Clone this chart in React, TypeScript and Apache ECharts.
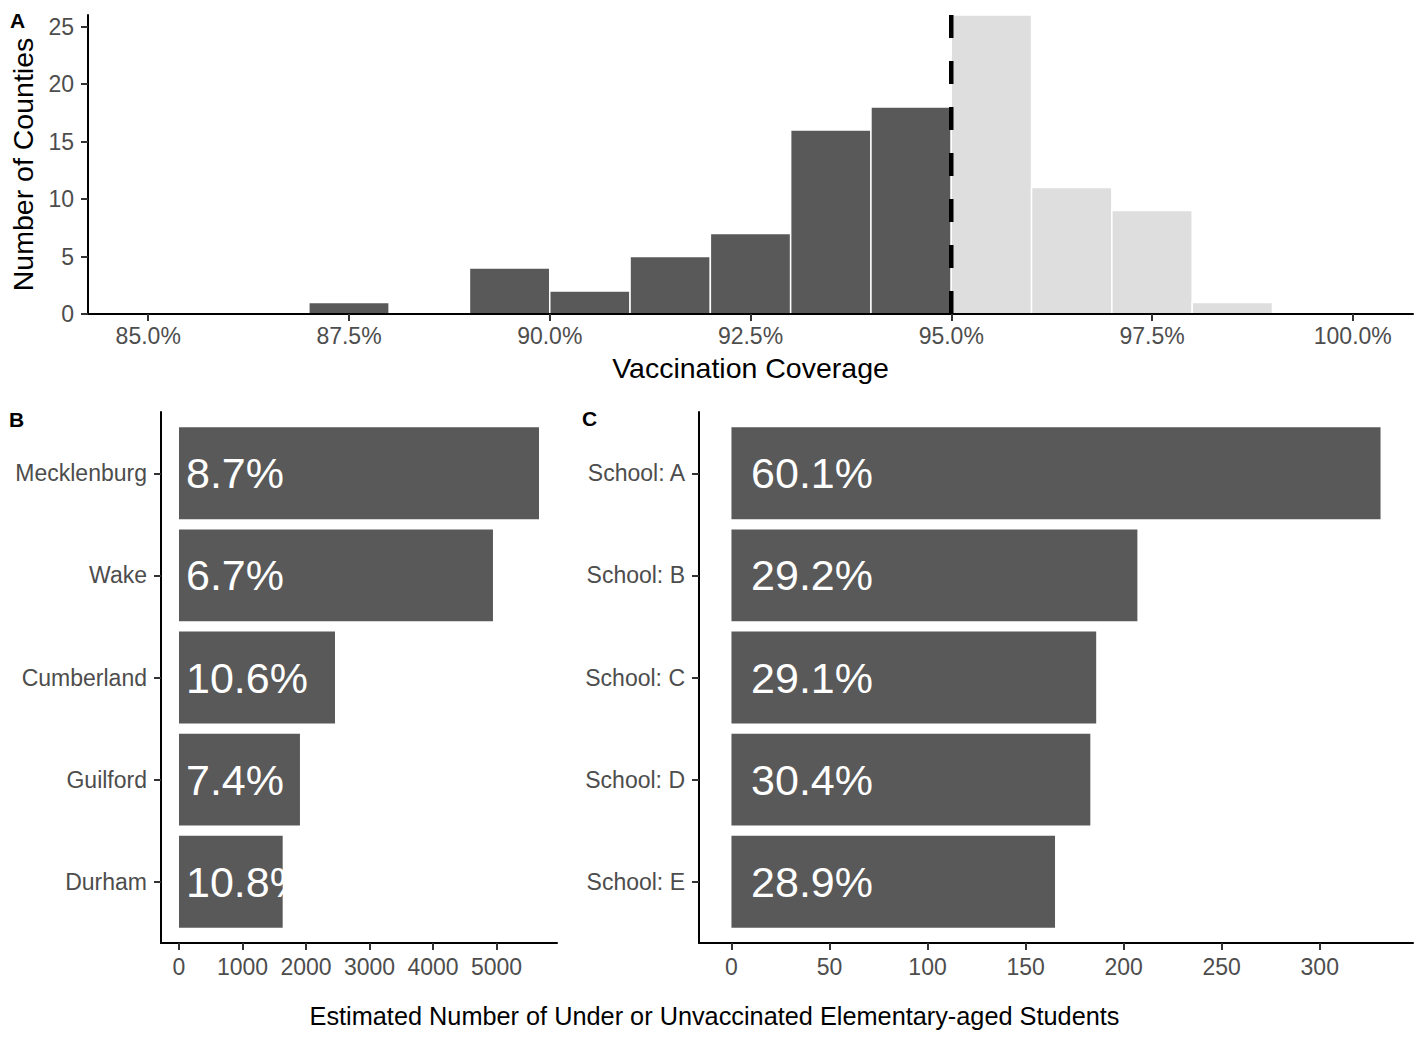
import React, { useEffect, useRef } from "react";
import * as echarts from "echarts";

// Histogram of county coverage: bin start (%) and number of counties per 1% bin
const binStarts = [85, 86, 87, 88, 89, 90, 91, 92, 93, 94, 95, 96, 97, 98, 99];
const binCounts = [0, 0, 1, 0, 4, 2, 5, 7, 16, 18, 26, 11, 9, 1, 0];
const binWidth = 1;
const coverageTarget = 95;
const coverageTicks = [85, 87.5, 90, 92.5, 95, 97.5, 100];
const countTicks = [0, 5, 10, 15, 20, 25];

// Largest counties by estimated under/unvaccinated students
const counties = ["Mecklenburg", "Wake", "Cumberland", "Guilford", "Durham"];
const countyStudents = [5670, 4945, 2457, 1905, 1633];
const countyRates = ["8.7%", "6.7%", "10.6%", "7.4%", "10.8%"];
const countyTicks = [0, 1000, 2000, 3000, 4000, 5000];

// Schools with the most under/unvaccinated students
const schools = ["School: A", "School: B", "School: C", "School: D", "School: E"];
const schoolStudents = [331, 207, 186, 183, 165];
const schoolRates = ["60.1%", "29.2%", "29.1%", "30.4%", "28.9%"];
const schoolTicks = [0, 50, 100, 150, 200, 250, 300];

const FONT = "'Liberation Sans', Arial, Helvetica, sans-serif";
const DARK = "#595959";
const LIGHT = "#DEDEDE";
const TICK_COLOR = "#4D4D4D";
const BAR_HALF = 0.45;

const axisLine = { show: true, onZero: false, lineStyle: { color: "#000", width: 2 } };
const ticks = (values: number[]) => ({
  show: true,
  customValues: values,
  length: 7,
  lineStyle: { color: "#333", width: 2 },
});
const labels = (values: number[], formatter: (v: number) => string, margin: number) => ({
  show: true,
  customValues: values,
  formatter,
  margin,
  color: TICK_COLOR,
  fontSize: 23,
  fontFamily: FONT,
});

// ggplot-style 5% padding on either side of a continuous range
const padded = (lo: number, hi: number) => {
  const pad = (hi - lo) * 0.05;
  return [lo - pad, hi + pad];
};

const coverageRange = padded(binStarts[0], binStarts[binStarts.length - 1] + binWidth);
const countMax = Math.max(...binCounts);
const countyRange = padded(0, Math.max(...countyStudents));
const schoolRange = padded(0, Math.max(...schoolStudents));

const horizontalBars = (rates: string[], labelAt: number) => (params: any, api: any) => {
  const v = api.value(0);
  const pos = api.value(1);
  const p0 = api.coord([0, pos - BAR_HALF]);
  const p1 = api.coord([v, pos + BAR_HALF]);
  const t = api.coord([labelAt, pos]);
  return {
    type: "group",
    children: [
      {
        type: "rect",
        shape: {
          x: p0[0],
          y: Math.min(p0[1], p1[1]),
          width: p1[0] - p0[0],
          height: Math.abs(p1[1] - p0[1]),
        },
        style: { fill: DARK },
      },
      {
        type: "text",
        x: t[0],
        y: t[1],
        style: {
          text: rates[params.dataIndex],
          fill: "#fff",
          fontSize: 43,
          fontFamily: FONT,
          align: "left",
          verticalAlign: "middle",
        },
      },
    ],
  };
};

const categoryAxis = (gridIndex: number, names: string[]) => ({
  type: "value",
  gridIndex,
  min: 0.4,
  max: names.length + 0.6,
  inverse: true,
  axisLine,
  axisTick: ticks(names.map((_, i) => i + 1)),
  axisLabel: labels(names.map((_, i) => i + 1), (v: number) => names[Math.round(v) - 1] ?? "", 14),
  splitLine: { show: false },
});

const panelLetter = (text: string, x: number, y: number) => ({
  type: "text",
  x,
  y,
  style: {
    text,
    fill: "#000",
    fontSize: 21,
    fontWeight: "bold",
    fontFamily: FONT,
    align: "left",
    verticalAlign: "middle",
  },
});

const option: any = {
  animation: false,
  backgroundColor: "#fff",
  grid: [
    { left: 88, top: 15, width: 1325, height: 299, outerBoundsMode: "none" },
    { left: 161, top: 412, width: 396, height: 531, outerBoundsMode: "none" },
    { left: 699, top: 412, width: 714, height: 531, outerBoundsMode: "none" },
  ],
  xAxis: [
    {
      type: "value",
      gridIndex: 0,
      min: coverageRange[0],
      max: coverageRange[1],
      axisLine,
      axisTick: ticks(coverageTicks),
      axisLabel: labels(coverageTicks, (v: number) => v.toFixed(1) + "%", 10),
      splitLine: { show: false },
      name: "Vaccination Coverage",
      nameLocation: "middle",
      nameGap: 39,
      nameTextStyle: { color: "#000", fontSize: 28.5, fontFamily: FONT },
      z: 5,
    },
    {
      type: "value",
      gridIndex: 1,
      min: countyRange[0],
      max: countyRange[1],
      axisLine,
      axisTick: ticks(countyTicks),
      axisLabel: labels(countyTicks, (v: number) => String(v), 12),
      splitLine: { show: false },
    },
    {
      type: "value",
      gridIndex: 2,
      min: schoolRange[0],
      max: schoolRange[1],
      axisLine,
      axisTick: ticks(schoolTicks),
      axisLabel: labels(schoolTicks, (v: number) => String(v), 12),
      splitLine: { show: false },
    },
  ],
  yAxis: [
    {
      type: "value",
      gridIndex: 0,
      min: 0,
      max: countMax,
      axisLine,
      axisTick: ticks(countTicks),
      axisLabel: labels(countTicks, (v: number) => String(v), 14),
      splitLine: { show: false },
      name: "Number of Counties",
      nameLocation: "middle",
      nameRotate: 90,
      nameGap: 48,
      nameTextStyle: { color: "#000", fontSize: 28.5, fontFamily: FONT },
      z: 5,
    },
    categoryAxis(1, counties),
    categoryAxis(2, schools),
  ],
  series: [
    {
      type: "custom",
      xAxisIndex: 0,
      yAxisIndex: 0,
      data: binStarts.map((s, i) => [s, s + binWidth, binCounts[i]]),
      encode: { x: [0, 1], y: 2 },
      z: 2,
      renderItem: (params: any, api: any) => {
        const x0 = api.value(0);
        const x1 = api.value(1);
        const c = api.value(2);
        if (!c) return null;
        const p0 = api.coord([x0, c]);
        const p1 = api.coord([x1, 0]);
        return {
          type: "rect",
          shape: { x: p0[0], y: p0[1], width: p1[0] - p0[0], height: p1[1] - p0[1] },
          style: { fill: x0 < coverageTarget ? DARK : LIGHT, stroke: "#fff", lineWidth: 1.5 },
        };
      },
    },
    {
      type: "line",
      xAxisIndex: 0,
      yAxisIndex: 0,
      data: [
        [coverageTarget, countMax],
        [coverageTarget, 0],
      ],
      symbol: "none",
      silent: true,
      z: 10,
      lineStyle: { color: "#000", width: 4.5, type: [23, 23] },
    },
    {
      type: "custom",
      xAxisIndex: 1,
      yAxisIndex: 1,
      data: countyStudents.map((v, i) => [v, i + 1]),
      encode: { x: 0, y: 1 },
      renderItem: horizontalBars(countyRates, 110),
    },
    {
      type: "custom",
      xAxisIndex: 2,
      yAxisIndex: 2,
      data: schoolStudents.map((v, i) => [v, i + 1]),
      encode: { x: 0, y: 1 },
      renderItem: horizontalBars(schoolRates, 10),
    },
  ],
  graphic: [
    panelLetter("A", 10, 20),
    panelLetter("B", 9, 419),
    panelLetter("C", 582, 418),
    {
      type: "text",
      x: 714.5,
      y: 1016,
      style: {
        text: "Estimated Number of Under or Unvaccinated Elementary-aged Students",
        fill: "#000",
        fontSize: 25.3,
        fontFamily: FONT,
        align: "center",
        verticalAlign: "middle",
      },
    },
  ],
};

export default function App() {
  const ref = useRef<HTMLDivElement>(null);
  useEffect(() => {
    const chart = echarts.init(ref.current!, null, { renderer: "svg" });
    chart.setOption(option);
    return () => chart.dispose();
  }, []);
  return (
    <div
      ref={ref}
      style={{ position: "absolute", left: 0, top: 0, width: 1428, height: 1038, background: "#fff" }}
    />
  );
}
